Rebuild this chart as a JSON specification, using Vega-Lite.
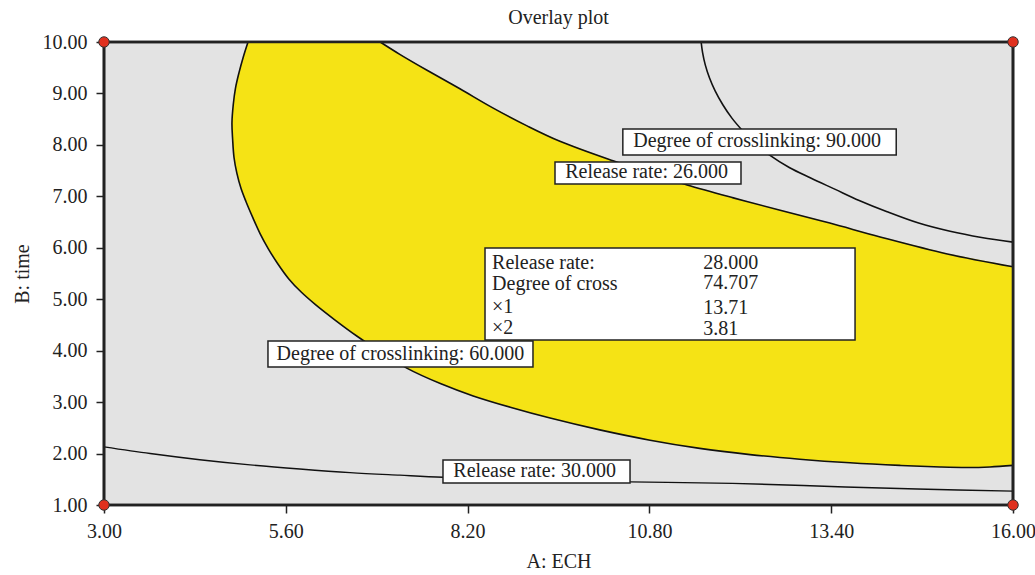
{
  "$schema": "https://vega.github.io/schema/vega-lite/v6.json",
  "width": 909,
  "height": 463,
  "autosize": {"type": "none"},
  "padding": {"left": 104, "top": 42, "right": 22, "bottom": 70},
  "background": "white",
  "config": {
    "font": "Liberation Serif",
    "view": {"fill": "#e3e3e3", "stroke": "#222", "strokeWidth": 2.6},
    "axis": {"domain": false, "grid": false, "labelFont": "Liberation Serif", "titleFont": "Liberation Serif", "labelFontSize": 20, "titleFontSize": 20, "labelColor": "#222", "titleColor": "#222", "titleFontWeight": "normal", "tickColor": "#222", "tickWidth": 1.5, "tickSize": 8, "labelFlush": false}
  },
  "title": {"text": "Overlay plot", "font": "Liberation Serif", "fontSize": 20, "fontWeight": "normal", "color": "#222", "baseline": "alphabetic", "offset": 16, "dy": 28},
  "datasets": {
    "yellow": [
      {"i": 1, "x": 5.06, "y": 10.0},
      {"i": 2, "x": 4.99, "y": 9.70},
      {"i": 3, "x": 4.93, "y": 9.40},
      {"i": 4, "x": 4.88, "y": 9.10},
      {"i": 5, "x": 4.85, "y": 8.80},
      {"i": 6, "x": 4.83, "y": 8.43},
      {"i": 7, "x": 4.84, "y": 8.10},
      {"i": 8, "x": 4.86, "y": 7.75},
      {"i": 9, "x": 4.90, "y": 7.45},
      {"i": 10, "x": 4.96, "y": 7.15},
      {"i": 11, "x": 5.03, "y": 6.90},
      {"i": 12, "x": 5.13, "y": 6.58},
      {"i": 13, "x": 5.23, "y": 6.28},
      {"i": 14, "x": 5.35, "y": 5.98},
      {"i": 15, "x": 5.48, "y": 5.70},
      {"i": 16, "x": 5.64, "y": 5.40},
      {"i": 17, "x": 5.82, "y": 5.14},
      {"i": 18, "x": 6.02, "y": 4.90},
      {"i": 19, "x": 6.30, "y": 4.60},
      {"i": 20, "x": 6.62, "y": 4.28},
      {"i": 21, "x": 6.95, "y": 3.98},
      {"i": 22, "x": 7.33, "y": 3.66},
      {"i": 23, "x": 7.81, "y": 3.36},
      {"i": 24, "x": 8.28, "y": 3.12},
      {"i": 25, "x": 8.81, "y": 2.90},
      {"i": 26, "x": 9.38, "y": 2.69},
      {"i": 27, "x": 10.09, "y": 2.46},
      {"i": 28, "x": 10.81, "y": 2.26},
      {"i": 29, "x": 11.52, "y": 2.10},
      {"i": 30, "x": 12.24, "y": 1.98},
      {"i": 31, "x": 12.95, "y": 1.89},
      {"i": 32, "x": 13.67, "y": 1.82},
      {"i": 33, "x": 14.38, "y": 1.77},
      {"i": 34, "x": 14.96, "y": 1.74},
      {"i": 35, "x": 15.34, "y": 1.73},
      {"i": 36, "x": 15.67, "y": 1.74},
      {"i": 37, "x": 16.0, "y": 1.77},
      {"i": 38, "x": 16.0, "y": 5.63},
      {"i": 39, "x": 15.06, "y": 5.88},
      {"i": 40, "x": 14.10, "y": 6.21},
      {"i": 41, "x": 13.38, "y": 6.48},
      {"i": 42, "x": 12.67, "y": 6.73},
      {"i": 43, "x": 12.00, "y": 6.97},
      {"i": 44, "x": 11.34, "y": 7.22},
      {"i": 45, "x": 10.81, "y": 7.45},
      {"i": 46, "x": 10.28, "y": 7.69},
      {"i": 47, "x": 9.52, "y": 8.07},
      {"i": 48, "x": 9.05, "y": 8.37},
      {"i": 49, "x": 8.56, "y": 8.72},
      {"i": 50, "x": 8.09, "y": 9.09},
      {"i": 51, "x": 7.62, "y": 9.45},
      {"i": 52, "x": 7.23, "y": 9.76},
      {"i": 53, "x": 6.95, "y": 10.0}
    ],
    "c60": [
      {"i": 1, "x": 5.06, "y": 10.0},
      {"i": 2, "x": 4.99, "y": 9.70},
      {"i": 3, "x": 4.93, "y": 9.40},
      {"i": 4, "x": 4.88, "y": 9.10},
      {"i": 5, "x": 4.85, "y": 8.80},
      {"i": 6, "x": 4.83, "y": 8.43},
      {"i": 7, "x": 4.84, "y": 8.10},
      {"i": 8, "x": 4.86, "y": 7.75},
      {"i": 9, "x": 4.90, "y": 7.45},
      {"i": 10, "x": 4.96, "y": 7.15},
      {"i": 11, "x": 5.03, "y": 6.90},
      {"i": 12, "x": 5.13, "y": 6.58},
      {"i": 13, "x": 5.23, "y": 6.28},
      {"i": 14, "x": 5.35, "y": 5.98},
      {"i": 15, "x": 5.48, "y": 5.70},
      {"i": 16, "x": 5.64, "y": 5.40},
      {"i": 17, "x": 5.82, "y": 5.14},
      {"i": 18, "x": 6.02, "y": 4.90},
      {"i": 19, "x": 6.30, "y": 4.60},
      {"i": 20, "x": 6.62, "y": 4.28},
      {"i": 21, "x": 6.95, "y": 3.98},
      {"i": 22, "x": 7.33, "y": 3.66},
      {"i": 23, "x": 7.81, "y": 3.36},
      {"i": 24, "x": 8.28, "y": 3.12},
      {"i": 25, "x": 8.81, "y": 2.90},
      {"i": 26, "x": 9.38, "y": 2.69},
      {"i": 27, "x": 10.09, "y": 2.46},
      {"i": 28, "x": 10.81, "y": 2.26},
      {"i": 29, "x": 11.52, "y": 2.10},
      {"i": 30, "x": 12.24, "y": 1.98},
      {"i": 31, "x": 12.95, "y": 1.89},
      {"i": 32, "x": 13.67, "y": 1.82},
      {"i": 33, "x": 14.38, "y": 1.77},
      {"i": 34, "x": 14.96, "y": 1.74},
      {"i": 35, "x": 15.34, "y": 1.73},
      {"i": 36, "x": 15.67, "y": 1.74},
      {"i": 37, "x": 16.0, "y": 1.77}
    ],
    "c26": [
      {"i": 1, "x": 16.0, "y": 5.63},
      {"i": 2, "x": 15.06, "y": 5.88},
      {"i": 3, "x": 14.10, "y": 6.21},
      {"i": 4, "x": 13.38, "y": 6.48},
      {"i": 5, "x": 12.67, "y": 6.73},
      {"i": 6, "x": 12.00, "y": 6.97},
      {"i": 7, "x": 11.34, "y": 7.22},
      {"i": 8, "x": 10.81, "y": 7.45},
      {"i": 9, "x": 10.28, "y": 7.69},
      {"i": 10, "x": 9.52, "y": 8.07},
      {"i": 11, "x": 9.05, "y": 8.37},
      {"i": 12, "x": 8.56, "y": 8.72},
      {"i": 13, "x": 8.09, "y": 9.09},
      {"i": 14, "x": 7.62, "y": 9.45},
      {"i": 15, "x": 7.23, "y": 9.76},
      {"i": 16, "x": 6.95, "y": 10.0}
    ],
    "c90": [
      {"i": 1, "x": 11.54, "y": 10.0},
      {"i": 2, "x": 11.56, "y": 9.80},
      {"i": 3, "x": 11.60, "y": 9.55},
      {"i": 4, "x": 11.66, "y": 9.30},
      {"i": 5, "x": 11.74, "y": 9.05},
      {"i": 6, "x": 11.85, "y": 8.78},
      {"i": 7, "x": 11.98, "y": 8.52},
      {"i": 8, "x": 12.13, "y": 8.28},
      {"i": 9, "x": 12.31, "y": 8.03},
      {"i": 10, "x": 12.52, "y": 7.80},
      {"i": 11, "x": 12.80, "y": 7.56},
      {"i": 12, "x": 13.10, "y": 7.36},
      {"i": 13, "x": 13.45, "y": 7.14},
      {"i": 14, "x": 13.80, "y": 6.92},
      {"i": 15, "x": 14.20, "y": 6.70},
      {"i": 16, "x": 14.65, "y": 6.48},
      {"i": 17, "x": 15.10, "y": 6.32},
      {"i": 18, "x": 15.55, "y": 6.20},
      {"i": 19, "x": 16.0, "y": 6.11}
    ],
    "c30": [
      {"i": 1, "x": 3.0, "y": 2.13},
      {"i": 2, "x": 3.66, "y": 2.00},
      {"i": 3, "x": 4.37, "y": 1.88},
      {"i": 4, "x": 5.09, "y": 1.78},
      {"i": 5, "x": 5.80, "y": 1.70},
      {"i": 6, "x": 6.52, "y": 1.63},
      {"i": 7, "x": 7.23, "y": 1.58},
      {"i": 8, "x": 7.85, "y": 1.54},
      {"i": 9, "x": 9.09, "y": 1.49},
      {"i": 10, "x": 10.52, "y": 1.45},
      {"i": 11, "x": 11.99, "y": 1.42},
      {"i": 12, "x": 13.00, "y": 1.38},
      {"i": 13, "x": 13.60, "y": 1.35},
      {"i": 14, "x": 14.63, "y": 1.31},
      {"i": 15, "x": 16.0, "y": 1.27}
    ],
    "boxes": [
      {"x1": 10.42, "x2": 14.33, "y1": 8.309, "y2": 7.803},
      {"x1": 9.45, "x2": 12.11, "y1": 7.667, "y2": 7.240},
      {"x1": 5.345, "x2": 9.135, "y1": 4.188, "y2": 3.682},
      {"x1": 7.848, "x2": 10.523, "y1": 1.874, "y2": 1.427},
      {"x1": 8.449, "x2": 13.741, "y1": 5.996, "y2": 4.207}
    ],
    "labels": [
      {"x": 12.34, "y": 7.959, "text": "Degree of crosslinking: 90.000"},
      {"x": 10.76, "y": 7.356, "text": "Release rate: 26.000"},
      {"x": 7.24, "y": 3.818, "text": "Degree of crosslinking: 60.000"},
      {"x": 9.16, "y": 1.544, "text": "Release rate: 30.000"}
    ],
    "boxtext": [
      {"x": 8.55, "y": 5.587, "text": "Release rate:"},
      {"x": 8.55, "y": 5.179, "text": "Degree of cross"},
      {"x": 8.55, "y": 4.732, "text": "×1"},
      {"x": 8.55, "y": 4.324, "text": "×2"},
      {"x": 11.57, "y": 5.587, "text": "28.000"},
      {"x": 11.57, "y": 5.199, "text": "74.707"},
      {"x": 11.57, "y": 4.712, "text": "13.71"},
      {"x": 11.57, "y": 4.304, "text": "3.81"}
    ],
    "frame": [
      {"x1": 3, "x2": 16, "y1": 1, "y2": 10}
    ],
    "corners": [
      {"x": 3, "y": 1},
      {"x": 3, "y": 10},
      {"x": 16, "y": 1},
      {"x": 16, "y": 10}
    ]
  },
  "encoding": {
    "x": {"field": "x", "type": "quantitative", "scale": {"domain": [3, 16], "nice": false, "zero": false},
      "axis": {"title": "A: ECH", "values": [3, 5.6, 8.2, 10.8, 13.4, 16], "format": ".2f", "labelPadding": 8, "titlePadding": 10}},
    "y": {"field": "y", "type": "quantitative", "scale": {"domain": [1, 10], "nice": false, "zero": false},
      "axis": {"title": "B: time", "values": [1, 2, 3, 4, 5, 6, 7, 8, 9, 10], "format": ".2f", "labelPadding": 9, "titlePadding": 10}}
  },
  "layer": [
    {
      "data": {"name": "yellow"},
      "mark": {"type": "line", "interpolate": "linear-closed", "fill": "#f5e315", "stroke": "#f5e315", "strokeWidth": 0.5},
      "encoding": {"order": {"field": "i", "type": "quantitative"}}
    },
    {
      "data": {"name": "c60"},
      "mark": {"type": "line", "interpolate": "catmull-rom", "stroke": "#111", "strokeWidth": 1.6},
      "encoding": {"order": {"field": "i", "type": "quantitative"}}
    },
    {
      "data": {"name": "c26"},
      "mark": {"type": "line", "interpolate": "catmull-rom", "stroke": "#111", "strokeWidth": 1.6},
      "encoding": {"order": {"field": "i", "type": "quantitative"}}
    },
    {
      "data": {"name": "c90"},
      "mark": {"type": "line", "interpolate": "catmull-rom", "stroke": "#111", "strokeWidth": 1.6},
      "encoding": {"order": {"field": "i", "type": "quantitative"}}
    },
    {
      "data": {"name": "c30"},
      "mark": {"type": "line", "interpolate": "catmull-rom", "stroke": "#111", "strokeWidth": 1.4},
      "encoding": {"order": {"field": "i", "type": "quantitative"}}
    },
    {
      "data": {"name": "boxes"},
      "mark": {"type": "rect", "fill": "white", "stroke": "#222", "strokeWidth": 1.5},
      "encoding": {
        "x": {"field": "x1", "type": "quantitative"},
        "x2": {"field": "x2"},
        "y": {"field": "y1", "type": "quantitative"},
        "y2": {"field": "y2"}
      }
    },
    {
      "data": {"name": "labels"},
      "mark": {"type": "text", "align": "center", "baseline": "alphabetic", "fontSize": 20, "font": "Liberation Serif", "color": "#222"},
      "encoding": {"text": {"field": "text"}}
    },
    {
      "data": {"name": "boxtext"},
      "mark": {"type": "text", "align": "left", "baseline": "alphabetic", "fontSize": 20, "font": "Liberation Serif", "color": "#222"},
      "encoding": {"text": {"field": "text"}}
    },
    {
      "data": {"name": "frame"},
      "mark": {"type": "rect", "fill": "transparent", "stroke": "#222", "strokeWidth": 2.6},
      "encoding": {
        "x": {"field": "x1", "type": "quantitative"},
        "x2": {"field": "x2"},
        "y": {"field": "y1", "type": "quantitative"},
        "y2": {"field": "y2"}
      }
    },
    {
      "data": {"name": "corners"},
      "mark": {"type": "point", "filled": true, "fill": "#e0301e", "stroke": "#333", "strokeWidth": 1, "size": 110, "opacity": 1, "clip": false}
    }
  ]
}
